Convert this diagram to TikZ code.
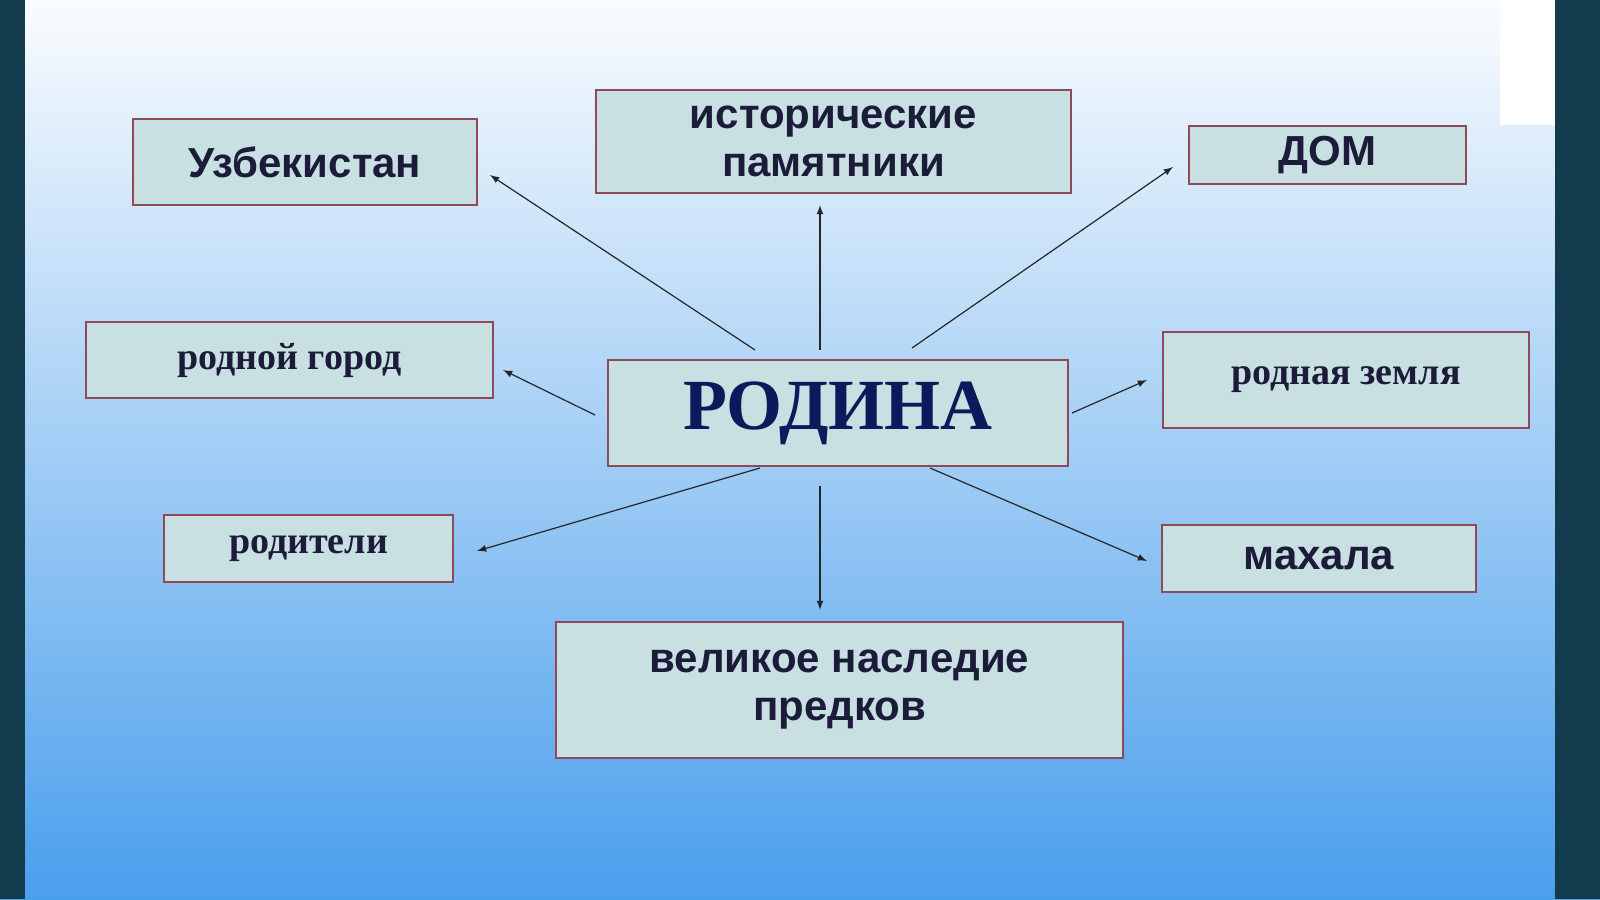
\documentclass[tikz,border=0pt]{standalone}
\usepackage{fontspec}
\setmainfont{Liberation Serif}
\setsansfont{Liberation Sans}
\begin{document}
\begin{tikzpicture}[x=0.5pt,y=-0.5pt,
  box/.style={draw=boxborder,line width=1.2pt,fill=boxfill,inner sep=0pt,text=txt},
  ss/.style={font=\sffamily\bfseries\fontsize{21}{24}\selectfont,align=center},
  sr/.style={font=\bfseries\fontsize{19}{22}\selectfont},
  arr/.style={draw=black!85,line width=0.6pt,-latex}]
\definecolor{boxfill}{HTML}{C9E0E3}
\definecolor{boxborder}{HTML}{8E4A5A}
\definecolor{txt}{HTML}{1C1C3A}
\definecolor{navy}{HTML}{0B1A5A}
\definecolor{edge}{HTML}{123C4E}
\definecolor{bgtop}{HTML}{FAFCFE}
\definecolor{bgmid}{HTML}{BADCF4}
\definecolor{bgbot}{HTML}{4A9FEC}
\useasboundingbox (0,0) rectangle (1600,899);
\shade[top color=bgtop,middle color=bgmid,bottom color=bgbot] (0,0) rectangle (1600,899);
\fill[edge] (0,0) rectangle (25,899);
\fill[edge] (1555,0) rectangle (1600,899);
\fill[white] (1500,0) rectangle (1555,125);
% boxes
\node[box,ss,minimum width=344pt*0.5,minimum height=86pt*0.5] (uz) at (305,162) {Узбекистан};
\node[box,ss,minimum width=475pt*0.5,minimum height=103pt*0.5] (ist) at (833.5,141.5) {исторические\\памятники};
\node[box,ss,minimum width=277pt*0.5,minimum height=58pt*0.5] (dom) at (1327.5,155) {ДОМ};
\node[box,sr,minimum width=407pt*0.5,minimum height=76pt*0.5] (gor) at (289.5,360) {родной город};
\node[box,minimum width=460pt*0.5,minimum height=106pt*0.5,text=navy,font=\bfseries\fontsize{36}{40}\selectfont] (rod) at (838,413) {РОДИНА};
\node[box,sr,minimum width=366pt*0.5,minimum height=96pt*0.5] (zem) at (1346,380) {родная земля};
\node[box,sr,minimum width=289pt*0.5,minimum height=67pt*0.5] (par) at (308.5,548.5) {родители};
\node[box,ss,minimum width=314pt*0.5,minimum height=67pt*0.5] (mah) at (1319,558.5) {махала};
\node[box,ss,minimum width=567pt*0.5,minimum height=136pt*0.5] (nas) at (839.5,690) {великое наследие\\предков};
% arrow endpoints
\coordinate (a1) at (755,350); \coordinate (b1) at (490,175);
\coordinate (a2) at (820,350); \coordinate (b2) at (820,205);
\coordinate (a3) at (912,348); \coordinate (b3) at (1173,167);
\coordinate (a4) at (595,415); \coordinate (b4) at (503,370);
\coordinate (a5) at (1072,413); \coordinate (b5) at (1147,380);
\coordinate (a6) at (760,468); \coordinate (b6) at (477,551);
\coordinate (a7) at (820,486); \coordinate (b7) at (820,610);
\coordinate (a8) at (930,468); \coordinate (b8) at (1147,561);
\foreach \i in {1,...,8} \draw[arr] (a\i) -- (b\i);
\end{tikzpicture}
\end{document}
